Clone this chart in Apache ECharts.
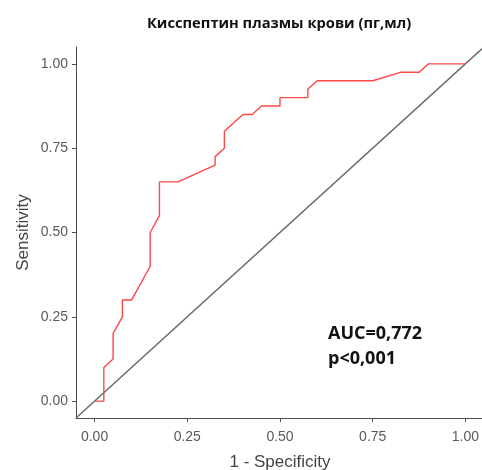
<!DOCTYPE html>
<html>
<head>
<meta charset="utf-8">
<script src="https://cdn.jsdelivr.net/npm/echarts@6/dist/echarts.min.js"></script>
<style>
html,body{margin:0;padding:0;background:#fff;}
#chart{width:482px;height:470px;}
</style>
</head>
<body>
<div id="chart"></div>
<script>
// 1 - Specificity (x) and Sensitivity (y) of the ROC curve
var fpr = [0, 0.025, 0.025, 0.05, 0.05, 0.075, 0.075, 0.1, 0.15, 0.15, 0.175, 0.175, 0.225, 0.325, 0.325, 0.35, 0.35, 0.4, 0.425, 0.45, 0.5, 0.5, 0.575, 0.575, 0.6, 0.75, 0.825, 0.875, 0.9, 1.0];
var tpr = [0, 0, 0.1, 0.125, 0.2, 0.25, 0.3, 0.3, 0.4, 0.5, 0.55, 0.65, 0.65, 0.7, 0.725, 0.75, 0.8, 0.85, 0.85, 0.875, 0.875, 0.9, 0.9, 0.925, 0.95, 0.95, 0.975, 0.975, 1.0, 1.0];
// reference diagonal (chance line)
var diagX = [-0.05, 1.05];
var diagY = [-0.05, 1.05];
var tickValues = [0, 0.25, 0.5, 0.75, 1.0];
var titleText = 'Кисспептин плазмы крови (пг,мл)';
var xName = '1 - Specificity';
var yName = 'Sensitivity';
var annotLines = ['AUC=0,772', 'p<0,001'];

var rocData = fpr.map(function (v, i) { return [v, tpr[i]]; });
var diagData = diagX.map(function (v, i) { return [v, diagY[i]]; });

var chart = echarts.init(document.getElementById('chart'), null, {renderer: 'canvas'});
var axisCommon = {
  type: 'value',
  min: -0.05,
  max: 1.05,
  splitLine: {show: false},
  axisLine: {show: true, onZero: false, lineStyle: {color: '#4d4d4d', width: 1}},
  axisTick: {show: true, customValues: tickValues, length: 4, lineStyle: {color: '#4d4d4d'}},
  axisLabel: {
    customValues: tickValues,
    color: '#595959',
    fontFamily: 'Liberation Sans',
    fontSize: 14,
    formatter: function (v) { return v.toFixed(2); }
  },
  nameLocation: 'middle',
  nameMoveOverlap: false,
  nameTextStyle: {color: '#444', fontFamily: 'Liberation Sans', fontSize: 17}
};
chart.setOption({
  animation: false,
  backgroundColor: '#fff',
  title: {
    text: titleText,
    left: 142,
    top: 11,
    textStyle: {fontFamily: 'Open Sans', fontWeight: 'bold', fontSize: 14.7, color: '#111'}
  },
  grid: {left: 76, top: 47, width: 408, height: 371, containLabel: false, outerBoundsMode: 'none'},
  xAxis: Object.assign({}, axisCommon, {
    name: xName,
    nameGap: 36,
    axisLabel: Object.assign({}, axisCommon.axisLabel, {margin: 12})
  }),
  yAxis: Object.assign({}, axisCommon, {
    name: yName,
    nameGap: 44,
    axisLabel: Object.assign({}, axisCommon.axisLabel, {margin: 8})
  }),
  series: [
    {
      type: 'line',
      data: diagData,
      symbol: 'none',
      lineStyle: {color: '#666', width: 1.4},
      silent: true
    },
    {
      type: 'line',
      data: rocData,
      symbol: 'none',
      lineStyle: {color: '#ff4747', width: 1.4},
      silent: true
    }
  ],
  graphic: [
    {
      type: 'text',
      left: 328,
      top: 321,
      style: {
        text: annotLines.join('\n'),
        font: 'bold 18px "Open Sans"',
        fill: '#111',
        lineHeight: 25
      }
    }
  ]
});
</script>
</body>
</html>
